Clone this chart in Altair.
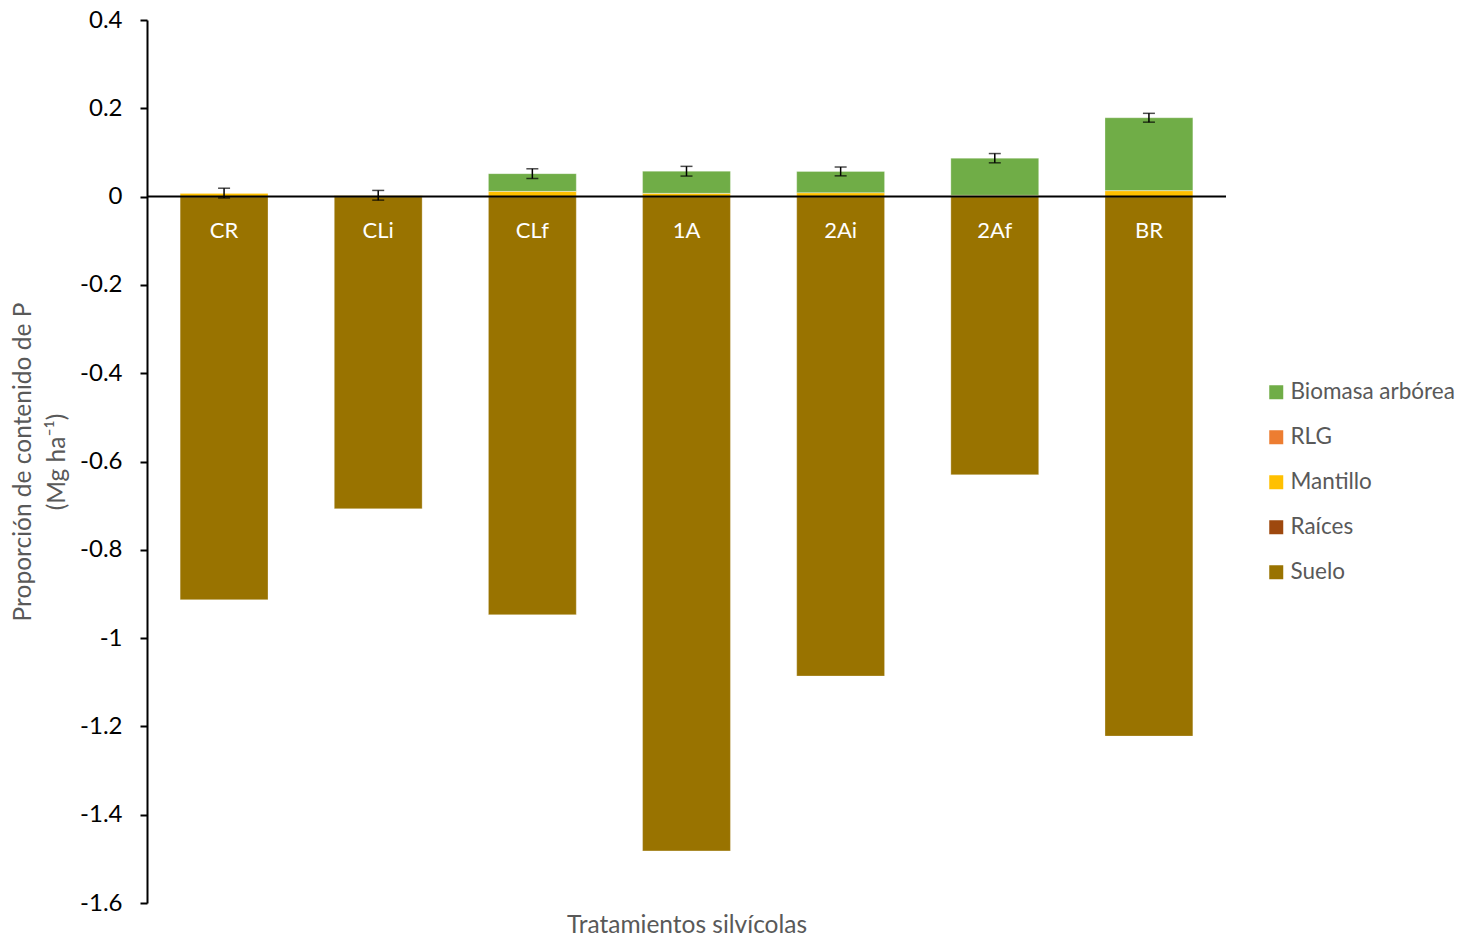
import altair as alt
import pandas as pd

categories = ["CR", "CLi", "CLf", "1A", "2Ai", "2Af", "BR"]
series = ["Suelo", "Raíces", "Mantillo", "RLG", "Biomasa arbórea"]
colors = ["#997300", "#9E480E", "#FFC000", "#ED7D31", "#70AD47"]

suelo = [-0.913, -0.707, -0.947, -1.482, -1.086, -0.630, -1.222]
raices = [0, 0, 0, 0, 0, 0, 0]
mantillo = [0.008, 0.003, 0.012, 0.0075, 0.009, 0.003, 0.0136]
rlg = [0, 0, 0, 0, 0, 0, 0]
biomasa = [0.0, 0.0, 0.040, 0.050, 0.048, 0.084, 0.165]
err = [0.011, 0.011, 0.011, 0.011, 0.010, 0.0105, 0.010]

y_ticks = [0.4, 0.2, 0, -0.2, -0.4, -0.6, -0.8, -1, -1.2, -1.4, -1.6]

FONT = "Lato"
GRAY = "#595959"

vals = [suelo, raices, mantillo, rlg, biomasa]
rows = []
for si, (s, v) in enumerate(zip(series, vals)):
    for c, x in zip(categories, v):
        rows.append({"cat": c, "serie": s, "value": x, "ord": si})
df = pd.DataFrame(rows)

tops = [m + r + b for m, r, b in zip(mantillo, rlg, biomasa)]
edf = pd.DataFrame({"cat": categories, "top": tops, "err": err})
edf["lo"] = edf["top"] - edf["err"]
edf["hi"] = edf["top"] + edf["err"]

xscale = alt.Scale(domain=categories, paddingInner=0.43, paddingOuter=0.215)
yscale = alt.Scale(domain=[-1.6, 0.4], nice=False, zero=False)

x_enc = alt.X("cat:N", scale=xscale, sort=categories,
              axis=alt.Axis(labels=False, ticks=False, domain=False,
                            title="Tratamientos silvícolas", titleFont=FONT,
                            titleFontSize=24.5, titleFontWeight="normal",
                            titleColor=GRAY, titlePadding=10))

bars = alt.Chart(df).mark_bar(stroke="white", strokeWidth=0.5, strokeOpacity=0.6).encode(
    x=x_enc,
    y=alt.Y("value:Q", stack="zero", scale=yscale,
            axis=alt.Axis(values=y_ticks, labelExpr="'' + datum.value",
                          grid=False, domainColor="black", domainWidth=2,
                          tickColor="black", tickSize=7, tickWidth=2,
                          labelFont=FONT, labelFontSize=24, labelColor="black",
                          labelPadding=18,
                          title=["Proporción de contenido de P", "(Mg ha⁻¹)"],
                          titleFont=FONT, titleFontSize=24.5,
                          titleFontWeight="normal", titleColor=GRAY,
                          titlePadding=10, titleLineHeight=34)),
    color=alt.Color("serie:N",
                    scale=alt.Scale(domain=list(reversed(series)),
                                    range=list(reversed(colors))),
                    legend=alt.Legend(title=None, orient="none",
                                      legendX=1118, legendY=361,
                                      symbolType="square", symbolSize=196,
                                      symbolStrokeWidth=0,
                                      labelFont=FONT, labelFontSize=22.5,
                                      labelColor=GRAY, rowPadding=22,
                                      labelOffset=3, labelLimit=400)),
    order=alt.Order("ord:Q", sort="ascending"),
)

zero = alt.Chart(pd.DataFrame({"z": [0]})).mark_rule(color="black", strokeWidth=2).encode(
    y=alt.Y("z:Q", scale=yscale)
)

ebar = alt.Chart(edf).mark_rule(color="black", strokeWidth=1.5).encode(
    x=alt.X("cat:N", scale=xscale, sort=categories),
    y=alt.Y("lo:Q", scale=yscale),
    y2="hi:Q",
)
cap_lo = alt.Chart(edf).mark_tick(color="black", thickness=1.5, size=12).encode(
    x=alt.X("cat:N", scale=xscale, sort=categories),
    y=alt.Y("lo:Q", scale=yscale),
)
cap_hi = alt.Chart(edf).mark_tick(color="black", thickness=1.5, size=12).encode(
    x=alt.X("cat:N", scale=xscale, sort=categories),
    y=alt.Y("hi:Q", scale=yscale),
)

labels = alt.Chart(pd.DataFrame({"cat": categories, "z": [0] * len(categories)})).mark_text(
    color="white", font=FONT, fontSize=22, baseline="middle", dy=34
).encode(
    x=alt.X("cat:N", scale=xscale, sort=categories),
    y=alt.Y("z:Q", scale=yscale),
    text="cat:N",
)

chart = alt.layer(bars, ebar, cap_lo, cap_hi, zero, labels).properties(
    width=1079, height=883,
    autosize=alt.AutoSizeParams(type="none"),
    padding={"left": 147, "top": 20, "right": 239, "bottom": 37},
    background="white",
).configure_view(strokeWidth=0, stroke="transparent")

chart.save("out.html", embed_options={"renderer": "svg", "actions": False})
